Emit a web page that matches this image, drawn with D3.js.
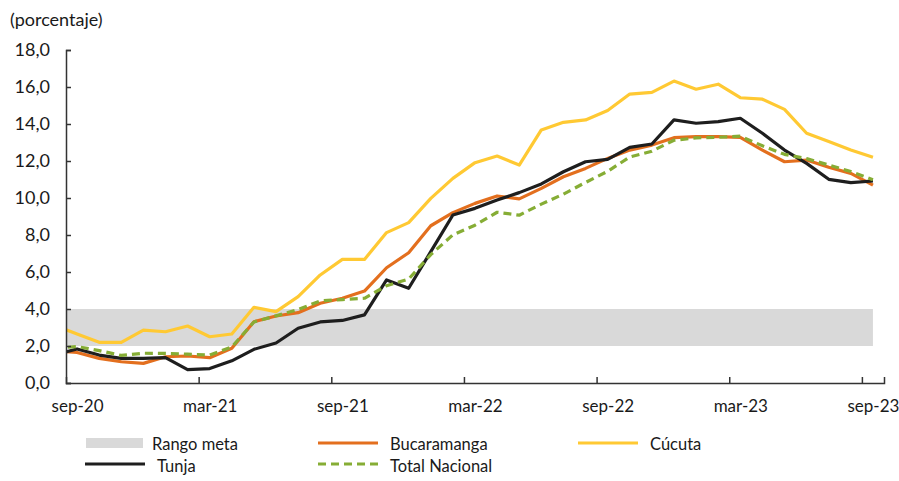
<!DOCTYPE html>
<html><head><meta charset="utf-8">
<script src="https://cdn.jsdelivr.net/npm/d3@7"></script>
<style>
body{margin:0;background:#fff;}
svg text{font-family:Lato,"Open Sans",sans-serif;fill:#1a1a1a;}
</style></head>
<body><svg id="c" width="899" height="481"></svg>
<script>
// months: aug-20 (index -1, partly outside plot) .. sep-23 (index 36)
const months = ["ago-20","sep-20","oct-20","nov-20","dic-20","ene-21","feb-21","mar-21","abr-21","may-21","jun-21","jul-21","ago-21","sep-21","oct-21","nov-21","dic-21","ene-22","feb-22","mar-22","abr-22","may-22","jun-22","jul-22","ago-22","sep-22","oct-22","nov-22","dic-22","ene-23","feb-23","mar-23","abr-23","may-23","jun-23","jul-23","ago-23","sep-23"];
const tickLabels = ["sep-20","mar-21","sep-21","mar-22","sep-22","mar-23","sep-23"];
const yTicks = [0,2,4,6,8,10,12,14,16,18];
const rangoMeta = [2, 4];
const bucaramanga = [1.75,1.65,1.33,1.15,1.06,1.42,1.46,1.37,1.88,3.31,3.62,3.80,4.31,4.58,4.97,6.23,7.04,8.50,9.21,9.71,10.11,9.95,10.52,11.15,11.60,12.14,12.59,12.86,13.26,13.32,13.32,13.28,12.59,11.96,12.05,11.66,11.33,10.70];
const cucuta = [3.11,2.65,2.20,2.20,2.86,2.77,3.08,2.50,2.65,4.09,3.86,4.67,5.84,6.68,6.68,8.13,8.67,9.98,11.06,11.91,12.27,11.78,13.68,14.09,14.22,14.73,15.62,15.71,16.32,15.88,16.15,15.42,15.34,14.79,13.50,13.05,12.59,12.20];
const tunja = [1.52,1.84,1.51,1.33,1.33,1.37,0.72,0.78,1.20,1.82,2.16,2.96,3.30,3.38,3.68,5.57,5.12,7.10,9.08,9.44,9.89,10.29,10.76,11.42,11.96,12.09,12.74,12.92,14.22,14.04,14.13,14.31,13.50,12.59,11.87,11.01,10.83,10.92];
const totalNacional = [1.88,1.97,1.75,1.49,1.61,1.60,1.56,1.51,1.95,3.30,3.63,3.97,4.44,4.51,4.58,5.26,5.62,6.94,8.01,8.53,9.23,9.07,9.67,10.21,10.84,11.44,12.22,12.53,13.12,13.25,13.28,13.34,12.82,12.36,12.13,11.78,11.43,10.99];

const svg = d3.select("#c");
const x = d3.scaleLinear().domain([-0.5, 36.5]).range([66, 884]);
const y = d3.scaleLinear().domain([0, 18]).range([383, 50]);
const idx = months.map((m,i)=>i-1);

svg.append("defs").append("clipPath").attr("id","clip")
  .append("rect").attr("x",x(-0.5)).attr("y",0).attr("width",x(36.5)-x(-0.5)).attr("height",481);

const plot = svg.append("g").attr("clip-path","url(#clip)");

// target range band
const area = d3.area().x(d=>x(d)).y0(y(rangoMeta[0])).y1(y(rangoMeta[1]));
plot.append("path").datum(idx).attr("d",area).attr("fill","#d9d9d9");

const line = d3.line().x((d,i)=>x(i-1)).y(d=>y(d));
const series = [
  {v:cucuta, c:"#ffc933", dash:null},
  {v:bucaramanga, c:"#e36f1e", dash:null},
  {v:tunja, c:"#1e1e1e", dash:null},
  {v:totalNacional, c:"#86ad35", dash:"8,5"}
];
series.forEach(s=>{
  plot.append("path").datum(s.v).attr("d",line).attr("fill","none")
    .attr("stroke",s.c).attr("stroke-width",3.2).attr("stroke-linejoin","round")
    .attr("stroke-dasharray",s.dash);
});

// Y axis
const yAxis = d3.axisLeft(y).tickValues(yTicks).tickSize(-5).tickPadding(16)
  .tickFormat(d=>d.toFixed(1).replace(".",","));
const gy = svg.append("g").attr("transform","translate(66,0)").call(yAxis);
gy.select(".domain").attr("stroke","#333").attr("stroke-width",1.5);
gy.selectAll(".tick line").attr("stroke","#333").attr("stroke-width",1.5);
gy.selectAll("text").attr("font-size",18).attr("fill","#1a1a1a");

// X axis: ticks at boundaries, labels at category centres
const tickPos = tickLabels.map((t,k)=>k*6-0.5).filter(v=>v>0);
const xAxisTicks = d3.axisBottom(x).tickValues(tickPos).tickSize(-6).tickFormat("");
const gx = svg.append("g").attr("transform","translate(0,383)").call(xAxisTicks);
gx.select(".domain").attr("stroke","#333").attr("stroke-width",1.5);
gx.selectAll(".tick line").attr("stroke","#333").attr("stroke-width",1.5);

const labelPos = tickLabels.map((t,k)=>k*6);
const xAxisLabels = d3.axisBottom(x).tickValues(labelPos).tickSize(0).tickPadding(17)
  .tickFormat((d,k)=>tickLabels[k]);
const gx2 = svg.append("g").attr("transform","translate(0,383)").call(xAxisLabels);
gx2.select(".domain").remove();
gx2.selectAll("text").attr("font-size",17).attr("fill","#1a1a1a");

// unit label
svg.append("text").attr("x",10).attr("y",26).attr("font-size",18).text("(porcentaje)");

// legend
const lg = svg.append("g");
lg.append("rect").attr("x",86).attr("y",438).attr("width",57).attr("height",10).attr("fill","#d9d9d9");
lg.append("text").attr("x",152).attr("y",450).attr("font-size",16.5).text("Rango meta");
const legItems = [
  {t:"Bucaramanga", c:"#e36f1e", dash:null, x1:318, y:443, ty:450},
  {t:"Cúcuta", c:"#ffc933", dash:null, x1:578, y:443, ty:450},
  {t:"Tunja", c:"#1e1e1e", dash:null, x1:85, y:464, ty:472},
  {t:"Total Nacional", c:"#86ad35", dash:"8,5", x1:318, y:464, ty:472}
];
legItems.forEach(l=>{
  lg.append("line").attr("x1",l.x1).attr("x2",l.x1+60).attr("y1",l.y).attr("y2",l.y)
    .attr("stroke",l.c).attr("stroke-width",3.2).attr("stroke-dasharray",l.dash);
  lg.append("text").attr("x",l.x1+72).attr("y",l.ty).attr("font-size",16.5).text(l.t);
});
</script></body></html>
